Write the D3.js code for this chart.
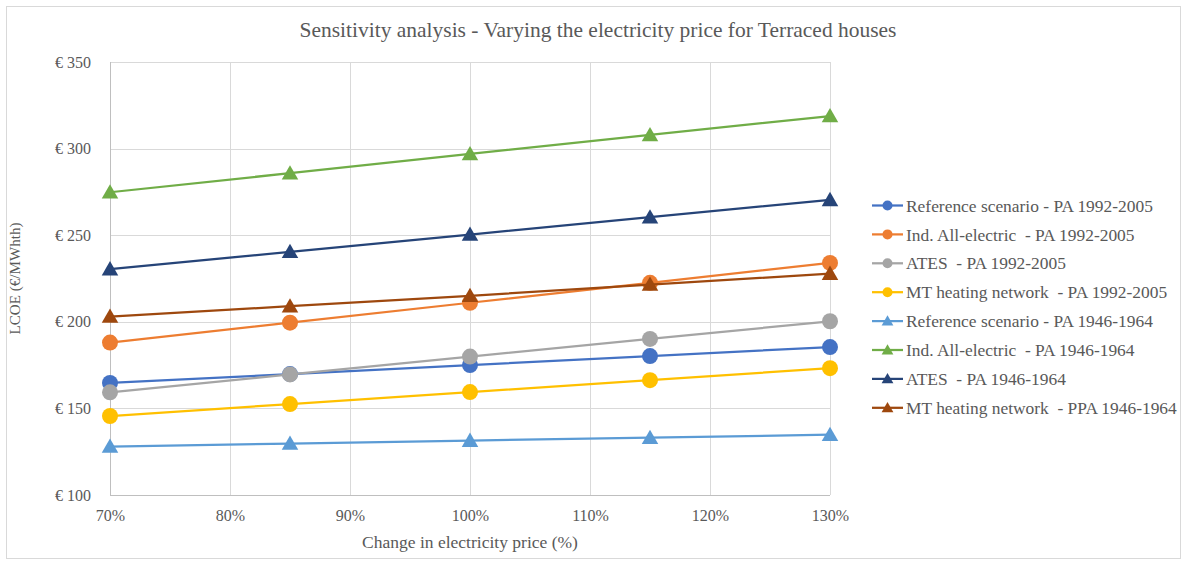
<!DOCTYPE html>
<html>
<head>
<meta charset="utf-8">
<script src="https://cdn.jsdelivr.net/npm/d3@7"></script>
<style>
  html, body { margin: 0; padding: 0; background: #fff; }
  svg { display: block; }
  svg text { font-family: "Liberation Serif", "DejaVu Serif", serif; fill: #595959; white-space: pre; }
</style>
</head>
<body>
<svg id="chart" width="1187" height="565"></svg>
<script>
// Electricity price change steps (%)
const priceSteps = [70, 85, 100, 115, 130];
const xTicks = [70, 80, 90, 100, 110, 120, 130];
const yTicks = [100, 150, 200, 250, 300, 350];

// Series names
const seriesNames = [
  "Reference scenario - PA 1992-2005",
  "Ind. All-electric  - PA 1992-2005",
  "ATES  - PA 1992-2005",
  "MT heating network  - PA 1992-2005",
  "Reference scenario - PA 1946-1964",
  "Ind. All-electric  - PA 1946-1964",
  "ATES  - PA 1946-1964",
  "MT heating network  - PPA 1946-1964"
];

// LCOE values (€/MWhth) per series
const refPA1992   = [164.7, 169.8, 175.0, 180.2, 185.4];
const elecPA1992  = [188.0, 199.5, 211.0, 222.5, 234.0];
const atesPA1992  = [159.3, 169.6, 179.9, 190.1, 200.3];
const mtPA1992    = [145.6, 152.5, 159.4, 166.3, 173.2];
const refPA1946   = [128.0, 129.7, 131.4, 133.1, 134.8];
const elecPA1946  = [274.8, 285.8, 296.9, 307.9, 318.8];
const atesPA1946  = [230.4, 240.4, 250.4, 260.4, 270.4];
const mtPA1946    = [203.0, 209.0, 215.0, 221.5, 227.8];

const seriesValues = [refPA1992, elecPA1992, atesPA1992, mtPA1992,
                      refPA1946, elecPA1946, atesPA1946, mtPA1946];
const seriesColors = ["#4472C4", "#ED7D31", "#A5A5A5", "#FFC000",
                      "#5B9BD5", "#70AD47", "#264478", "#9E480E"];
const seriesMarkers = ["circle", "circle", "circle", "circle",
                       "triangle", "triangle", "triangle", "triangle"];

const svg = d3.select("#chart");
const W = 1187, H = 565;

// Outer chart frame
svg.append("rect")
  .attr("x", 6.5).attr("y", 6.5)
  .attr("width", W - 13).attr("height", H - 13)
  .attr("fill", "#fff").attr("stroke", "#d9d9d9").attr("stroke-width", 1);

const plot = { left: 110, right: 830, top: 62, bottom: 495 };

const x = d3.scaleLinear().domain([70, 130]).range([plot.left, plot.right]);
const y = d3.scaleLinear().domain([100, 350]).range([plot.bottom, plot.top]);

// Size a text node so that it spans a given width
function fitText(sel, targetWidth) {
  sel.style("font-size", "100px");
  const w = sel.node().getComputedTextLength();
  sel.style("font-size", (100 * targetWidth / w).toFixed(2) + "px");
}

// Gridlines
const grid = svg.append("g");
grid.selectAll("line.h").data(yTicks).join("line")
  .attr("x1", plot.left).attr("x2", plot.right)
  .attr("y1", d => Math.round(y(d)) + 0.5).attr("y2", d => Math.round(y(d)) + 0.5)
  .attr("stroke", "#d9d9d9").attr("stroke-width", 1);
grid.selectAll("line.v").data(xTicks).join("line")
  .attr("y1", plot.top).attr("y2", plot.bottom)
  .attr("x1", d => Math.round(x(d)) + 0.5).attr("x2", d => Math.round(x(d)) + 0.5)
  .attr("stroke", "#d9d9d9").attr("stroke-width", 1);

// Axis lines
svg.append("line")
  .attr("x1", plot.left).attr("x2", plot.right)
  .attr("y1", Math.round(y(100)) + 0.5).attr("y2", Math.round(y(100)) + 0.5)
  .attr("stroke", "#bfbfbf").attr("stroke-width", 1);
svg.append("line")
  .attr("x1", Math.round(x(70)) + 0.5).attr("x2", Math.round(x(70)) + 0.5)
  .attr("y1", plot.top).attr("y2", plot.bottom)
  .attr("stroke", "#bfbfbf").attr("stroke-width", 1);

// Y axis tick labels
const yAxis = d3.axisLeft(y).tickValues(yTicks).tickSize(0).tickPadding(19)
  .tickFormat(d => "€ " + d);
const gy = svg.append("g").attr("transform", `translate(${plot.left},0)`).call(yAxis);
gy.select(".domain").remove();
gy.attr("font-family", null).attr("font-size", null);
gy.selectAll("text").attr("fill", null).style("font-size", "16px");

// X axis tick labels
const xAxis = d3.axisBottom(x).tickValues(xTicks).tickSize(0).tickPadding(15)
  .tickFormat(d => d + "%");
const gx = svg.append("g").attr("transform", `translate(0,${plot.bottom})`).call(xAxis);
gx.select(".domain").remove();
gx.attr("font-family", null).attr("font-size", null);
gx.selectAll("text").attr("fill", null).style("font-size", "16px");

// Title
const title = svg.append("text")
  .attr("x", 598).attr("y", 37).attr("text-anchor", "middle")
  .text("Sensitivity analysis - Varying the electricity price for Terraced houses");
fitText(title, 597);

// Axis titles
const xTitle = svg.append("text")
  .attr("x", (plot.left + plot.right) / 2).attr("y", 548).attr("text-anchor", "middle")
  .text("Change in electricity price (%)");
fitText(xTitle, 216);

const yTitle = svg.append("text")
  .attr("transform", `translate(20,${(plot.top + plot.bottom) / 2}) rotate(-90)`)
  .attr("text-anchor", "middle")
  .text("LCOE (€/MWhth)");
fitText(yTitle, 112);

// Marker symbols
function markerPath(kind, small) {
  if (kind === "circle") return d3.symbol().type(d3.symbolCircle).size(Math.PI * (small ? 5 : 8) ** 2)();
  return d3.symbol().type(d3.symbolTriangle).size(small ? 60 : 118)();
}

// Series lines and markers
const line = d3.line().x((d, i) => x(priceSteps[i])).y(d => y(d));
seriesValues.forEach((vals, s) => {
  const g = svg.append("g");
  g.append("path").datum(vals)
    .attr("d", line)
    .attr("fill", "none")
    .attr("stroke", seriesColors[s])
    .attr("stroke-width", 2.25)
    .attr("stroke-linejoin", "round");
  g.selectAll("path.m").data(vals).join("path")
    .attr("class", "m")
    .attr("d", markerPath(seriesMarkers[s], false))
    .attr("transform", (d, i) => {
      const dy = seriesMarkers[s] === "triangle" ? 1.5 : 0;
      return `translate(${x(priceSteps[i])},${y(d) + dy})`;
    })
    .attr("fill", seriesColors[s]);
});

// Legend
const legend = svg.append("g");
const legendTop = 205.5, legendStep = 28.9;
const items = legend.selectAll("g").data(seriesNames).join("g")
  .attr("transform", (d, i) => `translate(872,${legendTop + i * legendStep})`);
items.append("line")
  .attr("x1", 0).attr("x2", 31).attr("y1", 0).attr("y2", 0)
  .attr("stroke", (d, i) => seriesColors[i]).attr("stroke-width", 2.25);
items.append("path")
  .attr("d", (d, i) => markerPath(seriesMarkers[i], true))
  .attr("transform", (d, i) => `translate(15.5,${seriesMarkers[i] === "triangle" ? 1 : 0})`)
  .attr("fill", (d, i) => seriesColors[i]);
const legendTexts = items.append("text")
  .attr("x", 34).attr("y", 0).attr("dy", "0.35em")
  .text(d => d);
// common legend font size from the longest entry
const longest = legendTexts.filter((d, i) => i === 7);
fitText(longest, 271);
legendTexts.style("font-size", longest.style("font-size"));
</script>
</body>
</html>
